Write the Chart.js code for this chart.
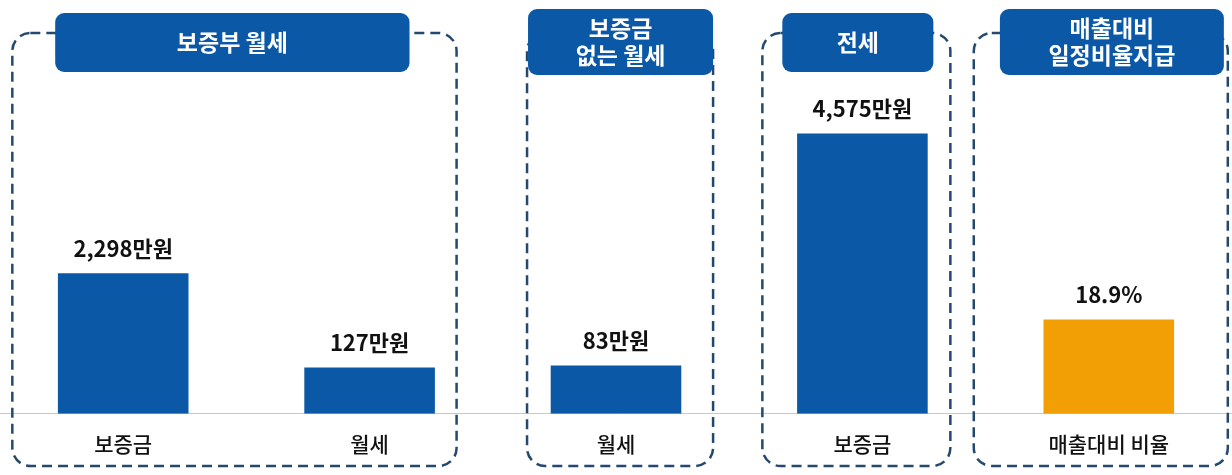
<!DOCTYPE html>
<html lang="ko">
<head>
<meta charset="utf-8">
<script src="https://cdn.jsdelivr.net/npm/chart.js@4"></script>
<style>
  html, body { margin: 0; padding: 0; background: #fff; }
  #wrap { width: 1232px; height: 475px; position: relative; }
</style>
</head>
<body>
<div id="wrap"><canvas id="rentChart"></canvas></div>
<script>
// categories under each bar
const categories = ['보증금', '월세', '월세', '보증금', '매출대비 비율'];
// drawn bar heights (the picture is not to one scale, so read as drawn)
const barHeights = [140, 46, 48, 279, 94];
// labels printed above the bars
const valueLabels = ['2,298만원', '127만원', '83만원', '4,575만원', '18.9%'];
// group headers and the category span each group covers
const groupTitles = [['보증부 월세'], ['보증금', '없는 월세'], ['전세'], ['매출대비', '일정비율지급']];
const groupBoxes = [[-0.45, 1.353], [1.639, 2.394], [2.594, 3.357], [3.452, 4.483]];
const groupHeads = [[-0.276, 1.162], [1.643, 2.394], [2.675, 3.288], [3.558, 4.467]];

const BLUE = '#0B59A6';
const ORANGE = '#F29F05';
const FONT = '"Noto Sans CJK KR", "Noto Sans", sans-serif';

function roundRect(c, x, y, w, h, r) {
  c.beginPath();
  c.moveTo(x + r, y);
  c.lineTo(x + w - r, y);
  c.arcTo(x + w, y, x + w, y + r, r);
  c.lineTo(x + w, y + h - r);
  c.arcTo(x + w, y + h, x + w - r, y + h, r);
  c.lineTo(x + r, y + h);
  c.arcTo(x, y + h, x, y + h - r, r);
  c.lineTo(x, y + r);
  c.arcTo(x, y, x + r, y, r);
  c.closePath();
}

const groupPlugin = {
  id: 'groups',
  beforeDatasetsDraw(chart) {
    const c = chart.ctx, xs = chart.scales.x;
    c.save();
    c.strokeStyle = '#24496F';
    c.lineWidth = 2.5;
    c.setLineDash([10, 6]);
    groupBoxes.forEach(([a, b]) => {
      const x1 = xs.getPixelForValue(a), x2 = xs.getPixelForValue(b);
      roundRect(c, x1, 33, x2 - x1, 433, 18);
      c.stroke();
    });
    c.restore();
  },
  afterDraw(chart) {
    const c = chart.ctx, xs = chart.scales.x;
    c.save();
    groupHeads.forEach(([a, b], i) => {
      const lines = groupTitles[i];
      const x1 = xs.getPixelForValue(a), x2 = xs.getPixelForValue(b);
      const top = lines.length > 1 ? 9 : 13;
      const bottom = lines.length > 1 ? 75 : 72;
      c.fillStyle = BLUE;
      roundRect(c, x1, top, x2 - x1, bottom - top, 9);
      c.fill();
      c.fillStyle = '#fff';
      c.font = 'bold 23px ' + FONT;
      c.textAlign = 'center';
      c.textBaseline = 'middle';
      const mid = (top + bottom) / 2, lh = 27;
      lines.forEach((t, j) => {
        c.fillText(t, (x1 + x2) / 2, mid + (j - (lines.length - 1) / 2) * lh);
      });
    });
    // value labels above bars
    const meta = chart.getDatasetMeta(0);
    c.fillStyle = '#111';
    c.font = 'bold 22px ' + FONT;
    c.textAlign = 'center';
    c.textBaseline = 'middle';
    meta.data.forEach((bar, i) => {
      c.fillText(valueLabels[i], bar.x, bar.y - 25);
    });
    c.restore();
  }
};

new Chart(document.getElementById('rentChart'), {
  type: 'bar',
  data: {
    labels: categories,
    datasets: [{
      data: barHeights,
      backgroundColor: [BLUE, BLUE, BLUE, BLUE, ORANGE],
      borderWidth: 0,
      categoryPercentage: 1,
      barPercentage: 0.53
    }]
  },
  options: {
    responsive: true,
    maintainAspectRatio: false,
    animation: false,
    layout: { padding: 0 },
    plugins: { legend: { display: false }, tooltip: { enabled: false } },
    scales: {
      x: {
        grid: { display: false, drawTicks: false },
        border: { display: true, color: '#C8C8C8', width: 1 },
        ticks: { color: '#111', padding: 18, font: { family: FONT, size: 21, weight: '500' } }
      },
      y: { display: false, min: 0, max: 412 }
    }
  },
  plugins: [groupPlugin]
});
</script>
</body>
</html>
